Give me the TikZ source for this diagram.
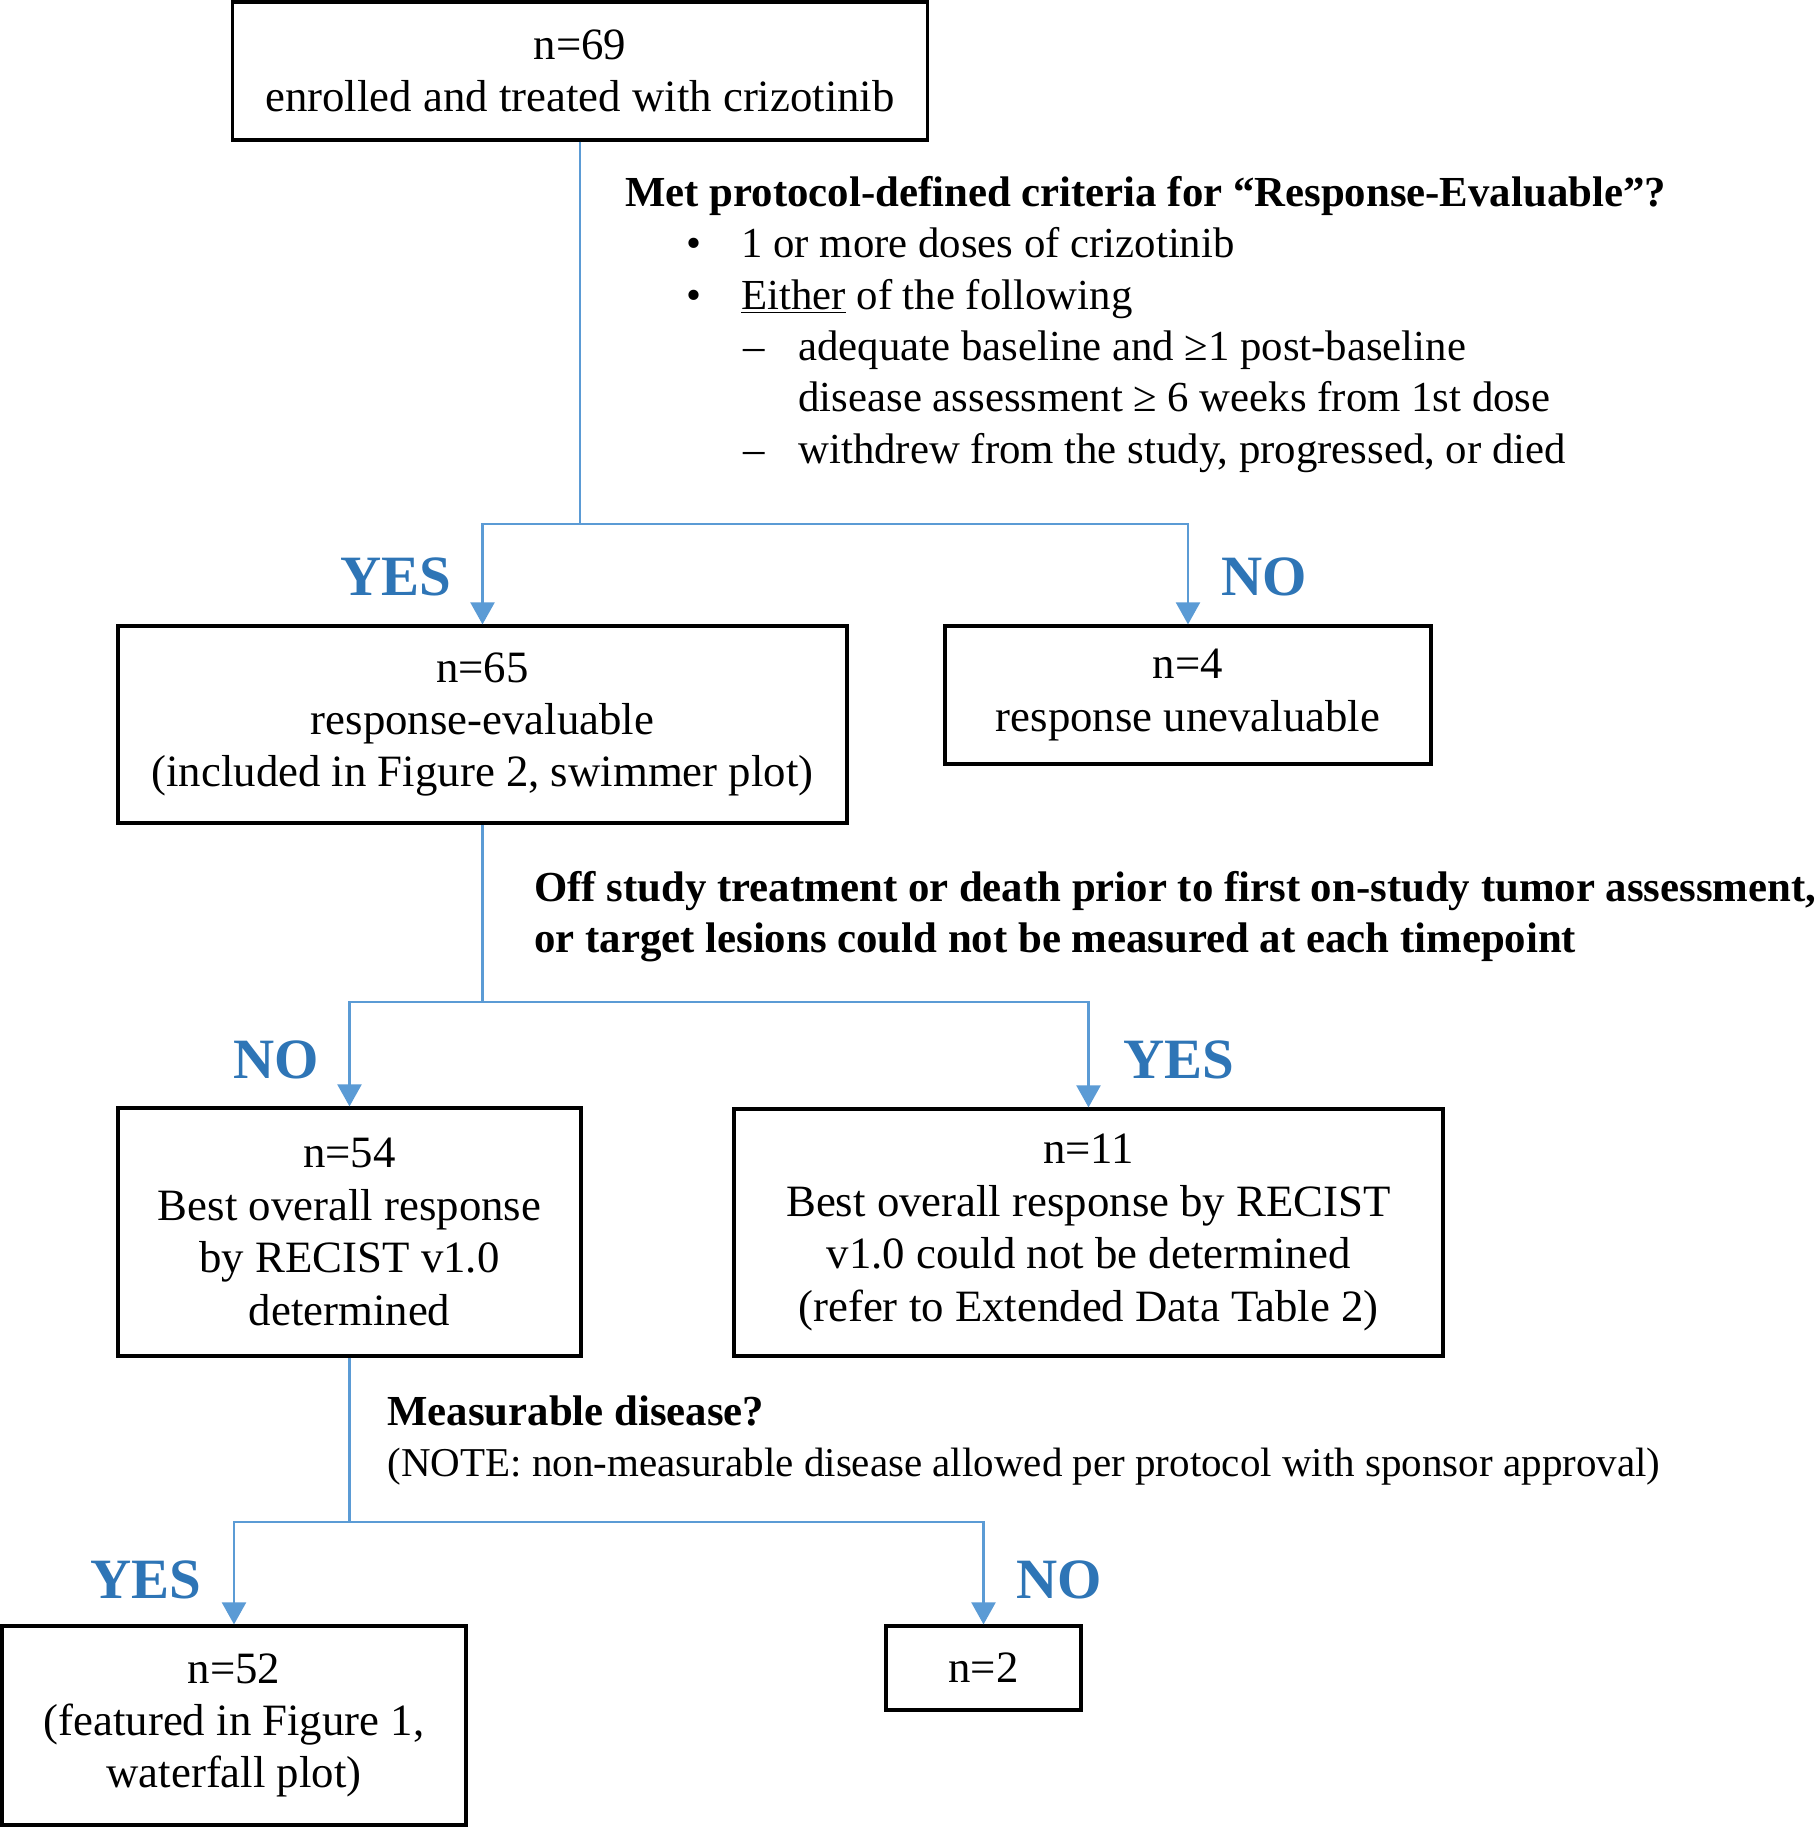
\documentclass[tikz,border=0pt]{standalone}
\usepackage{fontspec}
\setmainfont{Liberation Serif}
\usetikzlibrary{arrows.meta}
\definecolor{flowblue}{RGB}{91,155,213}
\definecolor{labelblue}{RGB}{46,117,182}

\begin{document}
\begin{tikzpicture}[x=0.5pt, y=-0.5pt,
  box/.style={draw=black, line width=1.6pt, align=center, inner sep=0pt,
    node font=\fontsize{22.4}{26.2}\selectfont},
  flow/.style={draw=flowblue, line width=1.1pt},
  arrow/.style={flow, -{Triangle[width=12pt,length=11pt]}},
  answer/.style={text=labelblue, anchor=base, node font=\fontsize{28.5}{30}\selectfont\bfseries},
  remark/.style={anchor=base west, inner sep=0pt, node font=\fontsize{21.4}{26}\selectfont}]
\useasboundingbox [fill=white] (0, 0) rectangle (1819, 1827);

% boxes
\node [box, minimum width=347.5pt, minimum height=69pt] (enrolled) at (580, 71) {n=69\\ enrolled and treated with crizotinib};
\node [box, minimum width=364.5pt, minimum height=98.5pt] (evaluable) at (482.5, 724.5) {n=65\\ response-evaluable\\ (included in Figure 2, swimmer plot)};
\node [box, minimum width=243pt, minimum height=69pt] (unevaluable) at (1188, 695) {n=4\\ response unevaluable};
\node [box, minimum width=231.5pt, minimum height=124pt] (determined) at (349.5, 1232) {n=54\\ Best overall response\\ by RECIST v1.0\\ determined};
\node [box, minimum width=354.5pt, minimum height=123.5pt] (undetermined) at (1088.5, 1232.5) {n=11\\ Best overall response by RECIST\\ v1.0 could not be determined\\ (refer to Extended Data Table 2)};
\node [box, minimum width=232pt, minimum height=99.5pt] (measurable) at (234, 1725.5) {n=52\\ (featured in Figure 1,\\ waterfall plot)};
\node [box, minimum width=97.5pt, minimum height=42pt] (nonmeasurable) at (983.5, 1668) {n=2};

% criteria
\node [remark, font=\bfseries] (crit0) at (625, 206) {Met protocol-defined criteria for “Response-Evaluable”?};
\node [remark] (crit1) at (686, 257.5) {\makebox[27.5pt][l]{•}1 or more doses of crizotinib};
\node [remark] (crit2) at (686, 309) {\makebox[27.5pt][l]{•}\underline{Either} of the following};
\node [remark] (crit3) at (743, 360) {\makebox[27.5pt][l]{–}adequate baseline and ≥1 post-baseline};
\node [remark] (crit4) at (798, 411) {disease assessment ≥ 6 weeks from 1st dose};
\node [remark] (crit5) at (743, 463) {\makebox[27.5pt][l]{–}withdrew from the study, progressed, or died};

\node [remark, font=\bfseries] (off0) at (534, 901) {Off study treatment or death prior to first on-study tumor assessment,};
\node [remark, font=\bfseries] (off1) at (534, 952) {or target lesions could not be measured at each timepoint};

\node [remark, font=\bfseries] (meas0) at (387, 1425) {Measurable disease?};
\node [remark, font=\fontsize{20.5}{26}\selectfont] (meas1) at (387, 1476) {(NOTE: non-measurable disease allowed per protocol with sponsor approval)};

% answers
\node [answer] (yes1) at (396, 595) {YES};
\node [answer] (no1) at (1264, 595) {NO};
\node [answer] (no2) at (276, 1078) {NO};
\node [answer] (yes2) at (1179, 1078) {YES};
\node [answer] (yes3) at (146, 1598) {YES};
\node [answer] (no3) at (1059, 1598) {NO};

% connectors
\coordinate (split1) at (enrolled.south |- 0, 524);
\coordinate (split2) at (evaluable.south |- 0, 1002);
\coordinate (split3) at (determined.south |- 0, 1522);
\draw [flow] (enrolled.south) -- (split1);
\draw [arrow] (split1) -| (evaluable.north);
\draw [arrow] (split1) -| (unevaluable.north);
\draw [flow] (evaluable.south) -- (split2);
\draw [arrow] (split2) -| (determined.north);
\draw [arrow] (split2) -| (undetermined.north);
\draw [flow] (determined.south) -- (split3);
\draw [arrow] (split3) -| (measurable.north);
\draw [arrow] (split3) -| (nonmeasurable.north);
\end{tikzpicture}
\end{document}
